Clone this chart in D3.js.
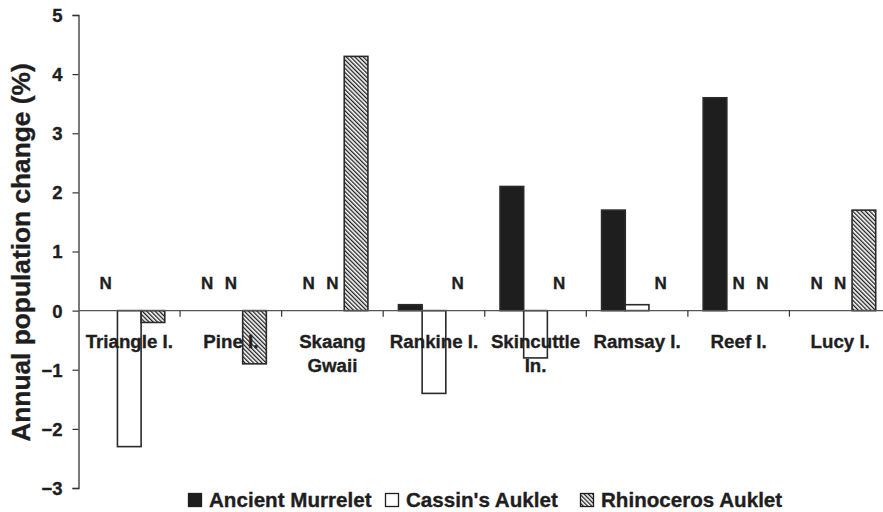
<!DOCTYPE html>
<html><head><meta charset="utf-8">
<script src="https://cdn.jsdelivr.net/npm/d3@7"></script>
<style>body{margin:0;background:#fff}svg{display:block}text{font-family:"Liberation Sans",Arial,sans-serif;font-weight:bold;fill:#1e1e1e;stroke:#1e1e1e;stroke-width:0.35px}</style>
</head><body><svg id="c" width="883" height="512"></svg>
<script>
const categories = ["Triangle I.", "Pine I.", "Skaang\nGwaii", "Rankine I.", "Skincuttle\nIn.", "Ramsay I.", "Reef I.", "Lucy I."];
const seriesNames = ["Ancient Murrelet", "Cassin's Auklet", "Rhinoceros Auklet"];
// null = "N" (no data)
const ancientMurrelet = [null, null, null, 0.1, 2.1, 1.7, 3.6, null];
const cassinsAuklet   = [-2.3, null, null, -1.4, -0.8, 0.1, null, null];
const rhinocerosAuklet = [-0.2, -0.9, 4.3, null, null, null, null, 1.7];
const yTicks = [-3, -2, -1, 0, 1, 2, 3, 4, 5];

const series = [ancientMurrelet, cassinsAuklet, rhinocerosAuklet];
const svg = d3.select("#c");
const defs = svg.append("defs");
const pat = defs.append("pattern").attr("id","hatch").attr("patternUnits","userSpaceOnUse")
  .attr("width",3).attr("height",3).attr("patternTransform","rotate(-45)");
pat.append("rect").attr("width",3).attr("height",3).attr("fill","#fff");
pat.append("rect").attr("x",0).attr("y",0).attr("width",1.3).attr("height",3).attr("fill","#1e1e1e");

const fills = ["#1e1e1e", "#fff", "url(#hatch)"];
const x0 = 78.5, x1 = 891;
const x = d3.scaleBand().domain(d3.range(categories.length)).range([x0, x1]);
const xs = d3.scaleBand().domain(d3.range(3)).range([0, 71]);
const off = (x.bandwidth() - 71) / 2;
const y = d3.scaleLinear().domain([-3, 5]).range([488, 15]);

// axes
const yAxis = svg.append("g").attr("transform", `translate(${x0},0)`)
  .call(d3.axisLeft(y).tickValues(yTicks).tickSize(6).tickPadding(10).tickFormat(d3.format("d")));
yAxis.select(".domain").attr("stroke","#333").attr("stroke-width",1.3);
yAxis.selectAll(".tick line").attr("stroke","#333").attr("stroke-width",1.2);
yAxis.selectAll(".tick text").attr("font-size",18.5).attr("fill","#1e1e1e").attr("font-family","Liberation Sans, Arial").attr("font-weight","bold").attr("dy","0.35em").attr("y",0);

// bars
categories.forEach((c, i) => {
  series.forEach((s, j) => {
    const v = s[i];
    const bx = x(i) + off + xs(j);
    if (v === null) {
      svg.append("text").attr("x", bx + xs.bandwidth()/2).attr("y", 288.5)
        .attr("text-anchor","middle").attr("font-size",17).text("N");
    } else {
      svg.append("rect").attr("x", bx).attr("width", xs.bandwidth())
        .attr("y", y(Math.max(0, v))).attr("height", Math.abs(y(v) - y(0)))
        .attr("fill", fills[j]).attr("stroke","#2a2a2a").attr("stroke-width",1.6);
    }
  });
});

// x axis line at 0
const xAxisG = svg.append("g").attr("transform", `translate(0,${y(0)})`);
xAxisG.append("line").attr("x1", x0).attr("x2", 883).attr("stroke","#555").attr("stroke-width",1.3);
d3.range(1, categories.length).forEach(i => {
  xAxisG.append("line").attr("x1", x(i)).attr("x2", x(i)).attr("y1",0).attr("y2",6).attr("stroke","#333").attr("stroke-width",1.2);
});

// category labels
categories.forEach((c, i) => {
  const t = svg.append("text").attr("x", x(i) + x.bandwidth()/2).attr("y", 347.5)
    .attr("text-anchor","middle").attr("font-size",18.7);
  c.split("\n").forEach((ln, k) => t.append("tspan").attr("x", x(i) + x.bandwidth()/2).attr("dy", k ? 24 : 0).text(ln));
});

// y title
svg.append("text").attr("transform", `translate(30,${(y(5)+y(-3))/2 + 1}) rotate(-90)`)
  .attr("text-anchor","middle").attr("font-size",26.3).text("Annual population change (%)");

// legend
const legX = [188, 385, 580];
seriesNames.forEach((n, j) => {
  svg.append("rect").attr("x", legX[j] + 0.5).attr("y", 493.5).attr("width", 13).attr("height", 13)
    .attr("fill", fills[j]).attr("stroke","#1e1e1e").attr("stroke-width",1.3);
  svg.append("text").attr("x", legX[j] + 21).attr("y", 506.5).attr("font-size",20.6).text(n);
});
</script></body></html>
